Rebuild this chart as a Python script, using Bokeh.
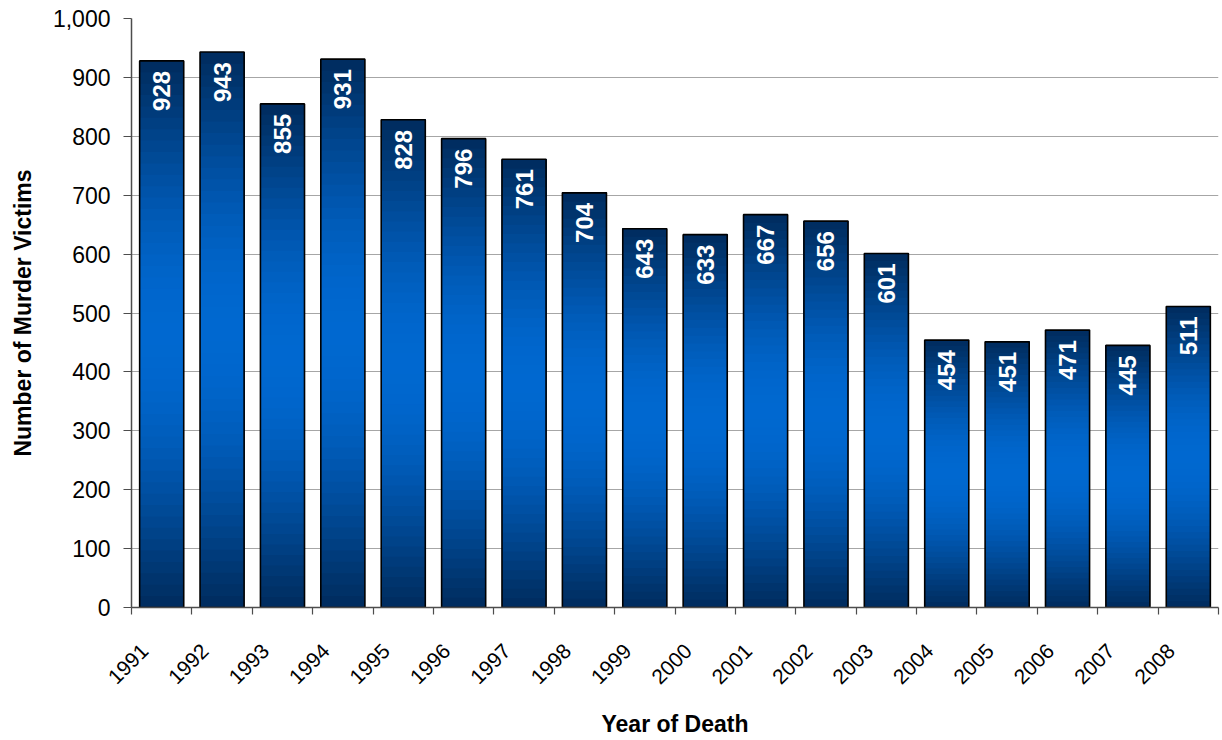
import numpy as np
from bokeh.plotting import figure
from bokeh.models import Range1d, FixedTicker, NumeralTickFormatter, CustomJSTickFormatter
from bokeh.core.properties import value
from bokeh.embed import file_html
from bokeh.resources import INLINE

years = ["1991", "1992", "1993", "1994", "1995", "1996", "1997", "1998", "1999",
         "2000", "2001", "2002", "2003", "2004", "2005", "2006", "2007", "2008"]
victims = [928, 943, 855, 931, 828, 796, 761, 704, 643, 633, 667, 656, 601,
           454, 451, 471, 445, 511]
y_ticks = list(range(0, 1001, 100))

FONT = "Liberation Sans"
n = len(years)
xs = np.arange(1, n + 1)
BAR_W = 0.73
LABEL_SHIFT = 0.28  # rotated year labels sit left of the bar centre

p = figure(width=1222, height=740,
           x_range=Range1d(0.5, n + 0.5), y_range=Range1d(0, 1000),
           output_backend="svg", toolbar_location=None,
           min_border_left=131, min_border_right=4,
           min_border_top=18, min_border_bottom=133)
p.outline_line_color = None
p.background_fill_color = "white"
p.border_fill_color = "white"

# gradient bars: overlapping slices, each from its start up to the bar's value
dark = np.array([0, 44, 94])
bright = np.array([0, 104, 208])
N = 48
lefts, rights, bottoms, tops, colors = [], [], [], [], []
for xi, v in zip(xs, victims):
    for k in range(N):
        t = (k + 0.5) / N
        s = np.sin(np.pi * t) ** 1.1
        c = dark + (bright - dark) * s
        lefts.append(xi - BAR_W / 2)
        rights.append(xi + BAR_W / 2)
        bottoms.append(v * k / N)
        tops.append(v)
        colors.append("#%02x%02x%02x" % tuple(int(round(u)) for u in c))

p.quad(left=lefts, right=rights, bottom=bottoms, top=tops,
       fill_color=colors, line_color=None)
p.vbar(x=xs, top=victims, width=BAR_W, fill_color=None,
       line_color="black", line_width=1.6)

p.text(x=xs, y=victims, text=[str(v) for v in victims], angle=np.pi / 2,
       text_align="right", text_baseline="middle", y_offset=10,
       text_color="white", text_font=value(FONT), text_font_style="bold",
       text_font_size="24px")

# grid
p.xgrid.grid_line_color = None
p.ygrid.grid_line_color = "#a6a6a6"
p.ygrid.grid_line_width = 1
p.ygrid.ticker = FixedTicker(ticks=y_ticks)

# y axis
p.yaxis.ticker = FixedTicker(ticks=y_ticks)
p.yaxis.formatter = NumeralTickFormatter(format="0,0")
p.yaxis.axis_label = "Number of Murder Victims"
p.yaxis.major_tick_out = 8
p.yaxis.major_tick_in = 0
p.yaxis.major_label_standoff = 13
p.yaxis.axis_label_standoff = 14

# x axis
p.xaxis.ticker = FixedTicker(ticks=list(xs - LABEL_SHIFT),
                             minor_ticks=list(np.arange(0.5, n + 1, 1.0)))
p.xaxis.formatter = CustomJSTickFormatter(
    args=dict(labels=years, shift=LABEL_SHIFT),
    code="return labels[Math.round(tick + shift) - 1] || '';")
p.xaxis.axis_label = "Year of Death"
p.xaxis.major_tick_out = 0
p.xaxis.major_tick_in = 0
p.xaxis.minor_tick_out = 7
p.xaxis.minor_tick_in = 0
p.xaxis.major_label_orientation = np.pi / 4
p.xaxis.major_label_standoff = 33
p.xaxis.axis_label_standoff = 18

for ax in (p.xaxis[0], p.yaxis[0]):
    ax.axis_line_color = "#4d4d4d"
    ax.axis_line_width = 1.5
    ax.major_tick_line_color = "#4d4d4d"
    ax.major_tick_line_width = 1.2
    ax.minor_tick_line_width = 1.2
    ax.major_label_text_font = FONT
    ax.major_label_text_color = "black"
    ax.axis_label_text_font = FONT
    ax.axis_label_text_font_size = "23px"
    ax.axis_label_text_font_style = "bold"
    ax.axis_label_text_color = "black"

p.xaxis.minor_tick_line_color = "#4d4d4d"
p.yaxis.minor_tick_line_color = None
p.xaxis.major_label_text_font_size = "21px"
p.yaxis.major_label_text_font_size = "23px"

open("out.html", "w").write(file_html(p, INLINE))
